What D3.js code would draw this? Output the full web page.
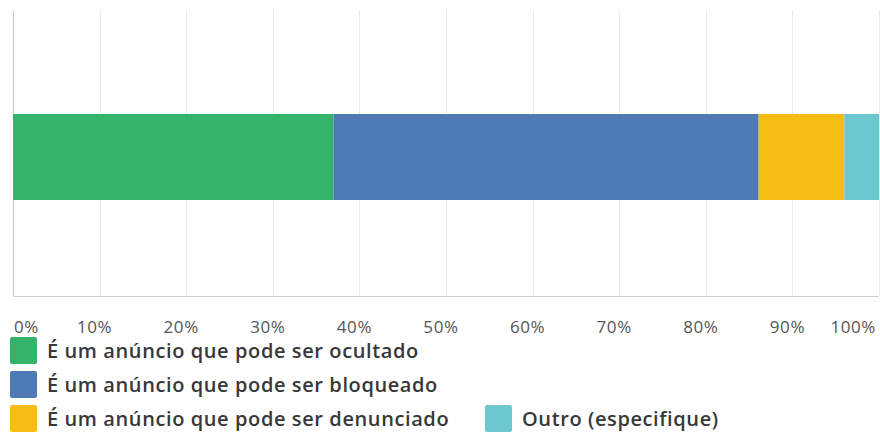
<!DOCTYPE html>
<html>
<head>
<meta charset="utf-8">
<script src="https://cdn.jsdelivr.net/npm/d3@7"></script>
<style>
  html, body { margin: 0; padding: 0; background: #fff; }
  svg { display: block; }
</style>
</head>
<body>
<svg id="chart" width="880" height="432"></svg>
<script>
// Answer shares (percent) for a single stacked bar
const categories = [
  "É um anúncio que pode ser ocultado",
  "É um anúncio que pode ser bloqueado",
  "É um anúncio que pode ser denunciado",
  "Outro (especifique)"
];
const values = [37.0, 49.1, 9.9, 4.0];
const colors = ["#33b46a", "#4e7bb6", "#f6bd14", "#6cc8ce"];
const tickValues = [0, 10, 20, 30, 40, 50, 60, 70, 80, 90, 100];
const tickLabels = ["0%", "10%", "20%", "30%", "40%", "50%", "60%", "70%", "80%", "90%", "100%"];

const svg = d3.select("#chart");
const font = "'Open Sans', 'Noto Sans', sans-serif";

const plotTop = 10, plotBottom = 296;
const x = d3.scaleLinear().domain([0, 100]).range([13, 879]);

// vertical gridlines
svg.append("g")
  .selectAll("line")
  .data(tickValues)
  .join("line")
  .attr("x1", d => Math.round(x(d)) + 0.5)
  .attr("x2", d => Math.round(x(d)) + 0.5)
  .attr("y1", plotTop)
  .attr("y2", plotBottom)
  .attr("stroke", d => d === 0 ? "#c8c8c8" : "#ececec")
  .attr("stroke-width", 1);

// baseline
svg.append("line")
  .attr("x1", x(0)).attr("x2", x(100))
  .attr("y1", plotBottom + 0.5).attr("y2", plotBottom + 0.5)
  .attr("stroke", "#cfcfcf");

// stacked segments
const stack = [];
let acc = 0;
values.forEach((v, i) => { stack.push({ start: acc, end: acc + v, i }); acc += v; });

svg.append("g")
  .selectAll("rect")
  .data(stack)
  .join("rect")
  .attr("x", d => x(d.start))
  .attr("y", 114)
  .attr("width", d => x(d.end) - x(d.start))
  .attr("height", 86)
  .attr("fill", d => colors[d.i]);

// percent axis labels
svg.append("g")
  .selectAll("text")
  .data(tickValues)
  .join("text")
  .attr("x", (d, i) => i === 0 ? x(d) + 1 : i === tickValues.length - 1 ? 876 : x(d) - 5)
  .attr("y", 333)
  .attr("text-anchor", (d, i) => i === 0 ? "start" : i === tickValues.length - 1 ? "end" : "middle")
  .attr("font-family", font)
  .attr("font-size", 17)
  .attr("letter-spacing", 0.6)
  .attr("fill", "#555")
  .text((d, i) => tickLabels[i]);

// legend
const legendPos = [
  { x: 10, y: 337 },
  { x: 10, y: 371 },
  { x: 10, y: 405 },
  { x: 485, y: 405 }
];
const lg = svg.append("g")
  .selectAll("g")
  .data(categories)
  .join("g")
  .attr("transform", (d, i) => `translate(${legendPos[i].x},${legendPos[i].y})`);

lg.append("rect")
  .attr("width", 27).attr("height", 27)
  .attr("rx", 2)
  .attr("fill", (d, i) => colors[i]);

lg.append("text")
  .attr("x", 37)
  .attr("y", 21)
  .attr("font-family", font)
  .attr("font-size", 20)
  .attr("font-weight", 600)
  .attr("letter-spacing", 0.6)
  .attr("fill", "#383838")
  .text(d => d);
</script>
</body>
</html>
